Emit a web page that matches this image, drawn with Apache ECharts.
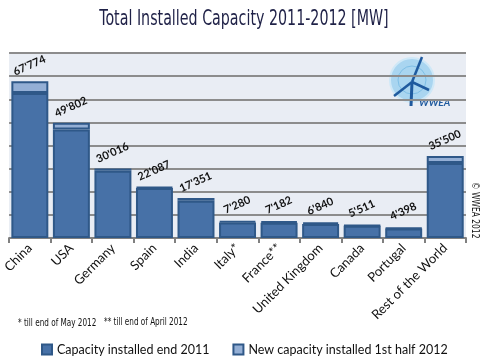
<!DOCTYPE html>
<html><head><meta charset="utf-8">
<script src="https://cdn.jsdelivr.net/npm/echarts@6/dist/echarts.min.js"></script>
<style>html,body{margin:0;padding:0;background:#fff}#c{width:487px;height:363px}</style>
</head><body><div id="c"></div>
<script>
var categories = ['China','USA','Germany','Spain','India','Italy*','France**','United Kingdom','Canada','Portugal','Rest of the World'];
var totalMid2012 = [67774,49802,30016,22087,17351,7280,7182,6840,5511,4398,35500];
var end2011 = [62733,46919,29075,21674,16084,6747,6640,6018,5265,4083,32400];
var totalLabels = ["67'774","49'802","30'016","22'087","17'351","7'280","7'182","6'840","5'511","4'398","35'500"];
var newHalf2012 = totalMid2012.map(function(v,i){return v-end2011[i];});
var seriesNames = ['Capacity installed end 2011','New capacity installed 1st half 2012'];

var cond = "'Liberation Sans Narrow','DejaVu Sans Condensed',sans-serif";
var body = "Lato,'Open Sans',sans-serif";
var chart = echarts.init(document.getElementById('c'));
chart.setOption({
  animation:false,
  backgroundColor:'#ffffff',
  grid:{left:8,right:21,top:53,bottom:125,show:true,backgroundColor:'#e9edf4',borderWidth:0},
  legend:{top:338,left:36,itemWidth:10,itemHeight:10,itemGap:23,
    textStyle:{fontFamily:body,fontSize:12.5,color:'#111'},
    data:[{name:seriesNames[0],icon:'rect'},{name:seriesNames[1],icon:'rect'}]},
  xAxis:{type:'category',data:categories,
    axisLine:{lineStyle:{color:'#808080',width:2}},
    axisTick:{show:true,length:5,lineStyle:{color:'#808080',width:2}},
    axisLabel:{rotate:45,margin:8,fontFamily:body,fontSize:13,color:'#111',interval:0}},
  yAxis:{type:'value',min:0,max:80000,interval:10000,
    axisLabel:{show:false},axisLine:{show:false},axisTick:{show:false},
    splitLine:{lineStyle:{color:'#8c8c8c',width:2}}},
  series:[
    {name:seriesNames[0],type:'bar',stack:'a',data:end2011,barCategoryGap:'11%',
     itemStyle:{color:'#4771a7',borderColor:'#2f5888',borderWidth:2}},
    {name:seriesNames[1],type:'bar',stack:'a',data:newHalf2012,
     itemStyle:{color:'#94afd5',borderColor:'#2f5888',borderWidth:2},
     label:{show:true,position:'top',distance:10,rotate:24,offset:[2,0],
       formatter:function(p){return totalLabels[p.dataIndex];},
       fontFamily:body,fontSize:11,fontWeight:'bold',color:'#111'}}
  ],
  graphic:[
    {type:'text',x:244,y:8,scaleX:0.72,style:{text:'Total Installed Capacity 2011-2012 [MW]',font:'22px '+cond,fill:'#1f2147',textAlign:'center',textVerticalAlign:'top'}},
    {type:'text',x:18,y:318,scaleX:0.77,style:{text:'* till end of May 2012',font:'10.5px '+cond,fill:'#111'}},
    {type:'text',x:104,y:317,scaleX:0.77,style:{text:'** till end of April 2012',font:'10.5px '+cond,fill:'#111'}},
    {type:'text',x:480,y:182,rotation:-Math.PI/2,scaleX:0.8,style:{text:'\u00a9 WWEA 2012',font:'10.5px '+cond,fill:'#111',textVerticalAlign:'top'}},
    {type:'circle',shape:{cx:412,cy:80,r:22},style:{fill:'#a9d5f0',stroke:'#cfe8f7',lineWidth:2}},
    {type:'circle',shape:{cx:412,cy:80,r:14},style:{fill:'none',stroke:'#7fbfe6',lineWidth:1}},
    {type:'line',shape:{x1:412,y1:82,x2:422,y2:57},style:{stroke:'#1f5a9e',lineWidth:2.5}},
    {type:'line',shape:{x1:412,y1:82,x2:394,y2:96},style:{stroke:'#1f5a9e',lineWidth:2.5}},
    {type:'line',shape:{x1:412,y1:82,x2:429,y2:90},style:{stroke:'#1f5a9e',lineWidth:2.5}},
    {type:'line',shape:{x1:412,y1:82,x2:411,y2:106},style:{stroke:'#1f5a9e',lineWidth:3}},
    {type:'text',x:419,y:98,style:{text:'WWEA',font:'italic bold 10px '+body,fill:'#1f5a9e'}}
  ]
});
</script></body></html>
